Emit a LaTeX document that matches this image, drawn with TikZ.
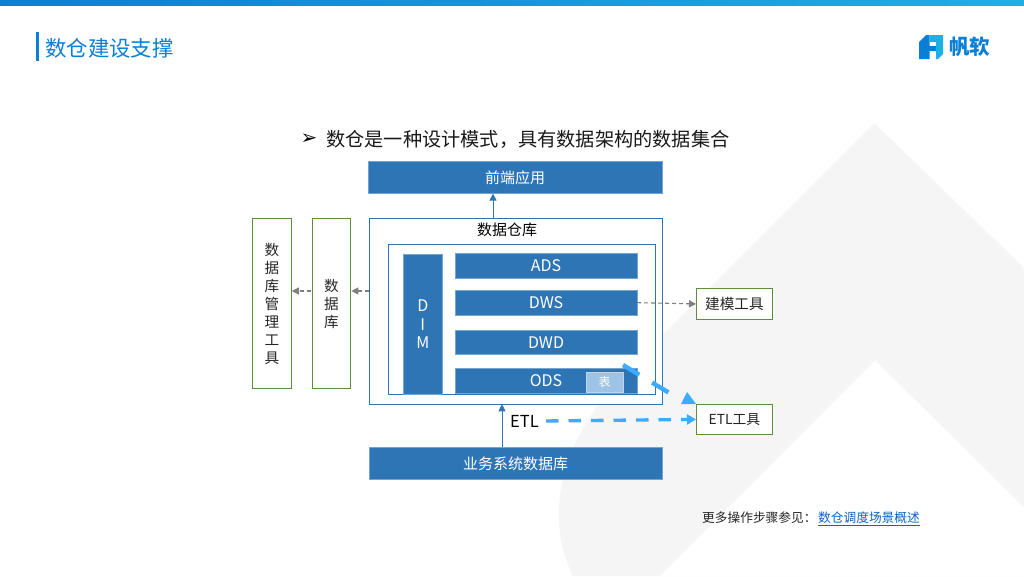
\documentclass[tikz,border=0pt]{standalone}
\usepackage{fontspec}
\setmainfont{Noto Sans CJK SC}
\newfontfamily\symfont{DejaVu Sans}
\usetikzlibrary{arrows.meta,positioning,calc}
\definecolor{fbblue}{HTML}{2E75B6}
\definecolor{fbedge}{HTML}{3A7DBB}
\definecolor{fbgreen}{HTML}{5B8E3E}
\definecolor{fbgrey}{HTML}{7F7F7F}
\definecolor{fbetl}{HTML}{3DABFF}
\definecolor{fbtitle}{HTML}{0A7FD6}
\definecolor{fbsky}{HTML}{1EAEE8}
\definecolor{fbback}{HTML}{F5F5F6}
\definecolor{fblink}{HTML}{0F63C1}
\definecolor{fbtable}{HTML}{9DC3E6}

\begin{document}
\begin{tikzpicture}[
  x=1pt, y=-1pt,
  node distance=13pt and 13pt,
  solidbox/.style={
    draw=fbedge!70, line width=0.6pt, fill=fbblue,
    font=\fontsize{15}{16}\selectfont, text=white, align=center,
    inner sep=0pt, anchor=north west},
  layerbox/.style={
    solidbox, minimum width=181.5pt, minimum height=24.5pt, font=\fontsize{16}{18}\selectfont},
  framebox/.style={
    draw=fbblue, line width=0.8pt, fill=white, inner sep=0pt, anchor=north west},
  toolbox/.style={
    draw=fbgreen, line width=1.3pt, fill=white, inner sep=0pt, anchor=north west,
    font=\fontsize{14.6}{18}\selectfont, text=black!85, align=center},
  uparrow/.style={-{Triangle[length=7pt,width=7pt]}, fbblue, line width=0.9pt},
  greyarrow/.style={-{Triangle[length=7pt,width=7pt]}, fbgrey, line width=1.1pt, dash pattern=on 4pt off 3pt},
  etlarrow/.style={-{Triangle[length=9pt,width=10pt]}, fbetl, line width=3.4pt, dash pattern=on 12.5pt off 10pt},
  etlslant/.style={fbetl, line width=4.4pt, dash pattern=on 19pt off 15pt},
]

  \useasboundingbox (0,0) rectangle (1024,576);

  %% ---- Page background ----
  \fill[white] (0,0) rectangle (1024,576);
  \fill[fbback, even odd rule]
    (875,124) [rounded corners=3pt] -- (1024,268) [sharp corners] -- (1024,576) -- (573,576)
    .. controls (550,530) and (545,450) .. (637,360) -- (870,127) -- cycle
    (875,360) -- (1024,507) -- (1024,576) -- (660,576) -- cycle;
  \shade[left color=fbtitle, right color=fbsky, draw=none] (0,0) rectangle (1024,5);

  %% ---- Title ----
  \fill[fbtitle] (36,32) rectangle (39,61);
  \node[font=\fontsize{21.4}{24}\selectfont, text=fbtitle, inner sep=0pt, anchor=west] (title) at (45,48) {数仓建设支撑};

  %% ---- Logo ----
  \fill[fbtitle] (919,42) -- (926,35) -- (929.5,35) -- (929.5,46) -- (936,46) -- (936,51) -- (929.5,51) -- (929.5,59) -- (919,59) -- cycle;
  \fill[fbsky] (929.5,35) -- (943,35) -- (943,54) -- (938,59) -- (936,59) -- (936,42) -- (929.5,42) -- cycle;
  \node[font=\fontsize{20.5}{22}\selectfont\bfseries, text=fbtitle, inner sep=0pt] (logo) at (969.5,47) {帆软};

  %% ---- Heading ----
  \node[font=\fontsize{20}{22}\selectfont\symfont\bfseries, inner sep=0pt] (mark) at (309,139) {➢};
  \node[font=\fontsize{19.2}{22}\selectfont, inner sep=0pt, anchor=west, text=black!90] (head) at (326,139) {数仓是一种设计模式，具有数据架构的数据集合};

  %% ---- Warehouse ----
  \node[solidbox, minimum width=293.5pt, minimum height=32pt] (front) at (368,161) {\raisebox{-1.5pt}{前端应用}};
  \node[framebox, minimum width=292.5pt, minimum height=185.5pt] (dw) at (369,218) {};
  \node[font=\fontsize{15}{16}\selectfont, inner sep=0pt] (dwlbl) at (507,230) {数据仓库};
  \node[framebox, minimum width=266.5pt, minimum height=149.5pt] (inner) at (388,244) {};
  \node[solidbox, minimum width=39pt, minimum height=140pt, font=\fontsize{16}{18}\selectfont] (dim) at (403,254) {D\\[0.3pt]I\\[0.3pt]M};
  \node[layerbox] (ads) at (455,253) {ADS};
  \node[layerbox, below=12pt of ads.south west, anchor=north west] (dws) {DWS};
  \node[layerbox, below=14.5pt of dws.south west, anchor=north west] (dwd) {DWD};
  \node[layerbox, below=13.5pt of dwd.south west, anchor=north west] (ods) {ODS};
  \node[draw=white!30!fbtable, line width=0.8pt, fill=fbtable, text=white, font=\fontsize{12}{13}\selectfont,
    inner sep=0pt, minimum width=37.5pt, minimum height=19.5pt, anchor=north west] (tbl) at (585.5,372) {表};
  \node[solidbox, minimum width=292.5pt, minimum height=32pt] (src) at (369,447) {业务系统数据库};

  %% ---- Tools ----
  \node[toolbox, minimum width=38.5pt, minimum height=170pt] (admin) at (252,218) {数\\据\\库\\管\\理\\工\\具};
  \node[toolbox, minimum width=38.5pt, minimum height=170pt] (db) at (311.5,218) {数\\据\\库};
  \node[toolbox, minimum width=75.5pt, minimum height=30.5pt] (model) at (696,288) {建模工具};
  \node[toolbox, minimum width=75.5pt, minimum height=29.5pt, font=\fontsize{13.8}{18}\selectfont] (etl) at (696,404) {ETL工具};

  %% ---- Flow ----
  \coordinate (dwtop) at (493,218);
  \draw[uparrow] (dwtop) -- (dwtop |- front.south);
  \coordinate (srctop) at (502,447);
  \draw[uparrow] (srctop) -- (srctop |- dw.south);
  \coordinate (dwout) at (369,291);
  \draw[greyarrow] (dwout) -- (dwout -| db.east);
  \coordinate (dbout) at (311,291);
  \draw[greyarrow] (dbout) -- (dbout -| admin.east);
  \draw[greyarrow] (dws.east) -- (model.west);

  %% ---- ETL ----
  \node[font=\fontsize{16.5}{20}\selectfont, inner sep=0pt, anchor=west] (etllbl) at (510,421) {ETL};
  \coordinate (etlstart) at (546,421);
  \draw[etlarrow] (etlstart) -- (etl.west);
  \coordinate (slantend) at ($(etl.north west)+(-15,-4)$);
  \coordinate (slantstart) at (623,365);
  \draw[etlslant] (slantstart) -- (slantend);
  \fill[fbetl] (etl.north west) -- ++(-15,0) -- ++(6,-12) -- cycle;

  %% ---- Footer ----
  \node[font=\fontsize{12.7}{15}\selectfont, inner sep=0pt, anchor=west, text=black!85] (more) at (702,518) {更多操作步骤参见：};
  \node[font=\fontsize{12.7}{15}\selectfont, inner sep=0pt, anchor=east, text=fblink] (link) at (920,518) {数仓调度场景概述};
  \coordinate (under) at (0,525.5);
  \draw[fblink, line width=0.7pt] (link.west |- under) -- (link.east |- under);

\end{tikzpicture}
\end{document}
